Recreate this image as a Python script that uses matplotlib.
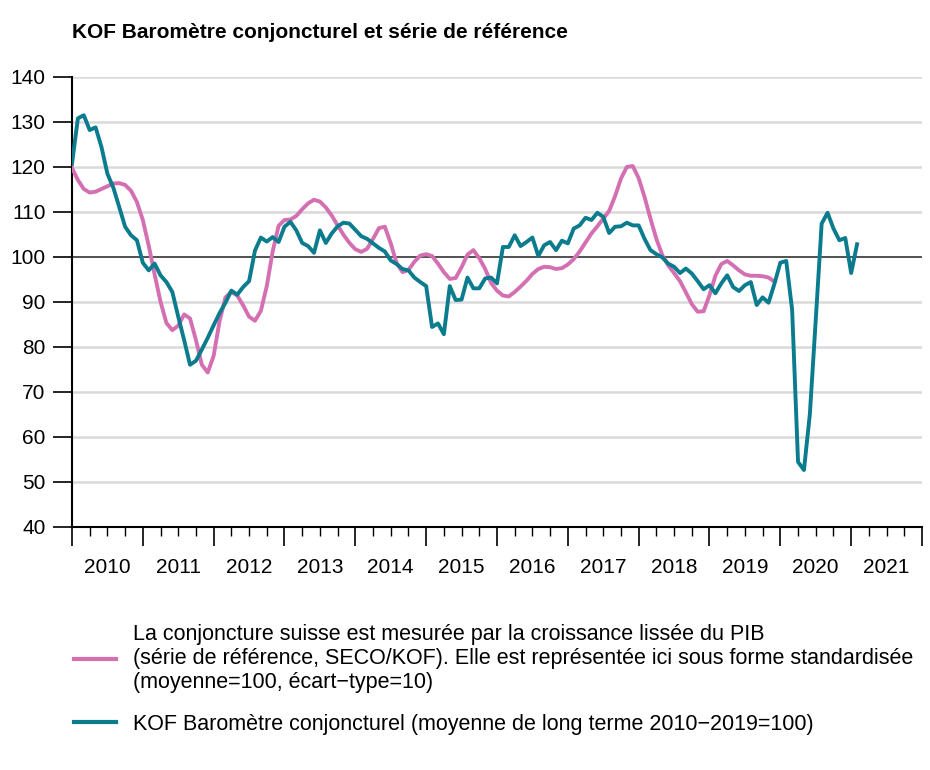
import numpy as np
import matplotlib.pyplot as plt
from matplotlib.lines import Line2D

# monthly data, index 0 = Jan 2010
kof_barometer = [
    120.7, 130.8, 131.5, 128.2, 128.8, 124.4, 118.5, 115.4, 111.1, 106.7, 104.8, 103.7,
    98.7, 97.0, 98.5, 95.9, 94.4, 92.2, 86.7, 81.5, 76.0, 76.9, 79.4, 82.0,
    84.8, 87.5, 89.8, 92.5, 91.6, 93.3, 94.6, 101.4, 104.3, 103.4, 104.4, 103.3,
    106.7, 107.8, 105.9, 103.1, 102.4, 100.9, 105.9, 103.1, 105.2, 106.8, 107.6, 107.4,
    106.0, 104.6, 104.0, 103.0, 102.0, 101.2, 99.2, 98.4, 97.3, 97.0, 95.4, 94.4,
    93.5, 84.4, 85.2, 82.8, 93.5, 90.4, 90.5, 95.4, 93.0, 93.0, 95.2, 95.4,
    94.1, 102.2, 102.2, 104.8, 102.4, 103.3, 104.3, 100.2, 102.6, 103.3, 101.5, 103.6,
    103.0, 106.3, 107.0, 108.7, 108.2, 109.8, 108.9, 105.3, 106.7, 106.8, 107.6, 107.0,
    107.0, 104.0, 101.5, 100.6, 99.9, 98.5, 97.8, 96.4, 97.4, 96.3, 94.6, 92.8,
    93.7, 91.9, 94.1, 95.9, 93.3, 92.4, 93.7, 94.4, 89.3, 91.0, 89.8, 94.0,
    98.7, 99.1, 88.2, 54.4, 52.6, 65.0, 86.0, 107.4, 109.8, 106.3, 103.7, 104.2,
    96.4, 102.8,
]

reference_series = [
    119.8, 117.1, 115.1, 114.3, 114.5, 115.1, 115.7, 116.3, 116.4, 116.0, 114.7, 112.2,
    108.2, 102.5, 96.1, 90.0, 85.3, 83.7, 84.7, 87.2, 86.3, 81.5, 76.0, 74.3,
    78.0, 85.7, 91.0, 92.2, 91.4, 89.2, 86.7, 85.8, 88.0, 93.5, 101.2, 106.9,
    108.2, 108.3, 109.1, 110.6, 111.9, 112.7, 112.3, 111.0, 109.2, 107.0, 104.9, 103.1,
    101.7, 101.1, 101.8, 104.0, 106.4, 106.7, 103.0, 98.6, 96.6, 97.1, 98.9, 100.3,
    100.6, 100.2, 98.5, 96.6, 95.1, 95.3, 97.7, 100.5, 101.5, 99.7, 97.3, 94.2,
    92.5, 91.4, 91.2, 92.2, 93.4, 94.7, 96.2, 97.3, 97.8, 97.7, 97.3, 97.5,
    98.3, 99.5, 101.2, 103.2, 105.2, 106.8, 108.5, 110.2, 113.5, 117.4, 120.0, 120.2,
    117.5, 113.3, 108.5, 104.0, 100.4, 98.1, 96.4, 94.6, 92.1, 89.5, 87.8, 87.9,
    91.5, 95.8, 98.4, 99.1, 98.1, 97.0, 96.1, 95.8, 95.8, 95.7, 95.4, 94.5,
]

years = list(range(2010, 2022))
y_ticks = list(range(40, 141, 10))

label_ref = ("La conjoncture suisse est mesurée par la croissance lissée du PIB\n"
             "(série de référence, SECO/KOF). Elle est représentée ici sous forme standardisée\n"
             "(moyenne=100, écart\u2212type=10)")
label_kof = "KOF Baromètre conjoncturel (moyenne de long terme 2010\u22122019=100)"

pink = '#d470b2'
teal = '#0b7b8e'

plt.rcParams['font.family'] = ['Liberation Sans', 'DejaVu Sans']

fig = plt.figure(figsize=(9.3, 7.7), dpi=100)
ax = fig.add_axes([0.0774, 0.316, 0.914, 0.584])

# grid lines, 100 line darker
for v in y_ticks:
    if v == 100:
        ax.axhline(v, color='#333333', lw=1.2, zorder=2)
    elif v != 40:
        ax.axhline(v, color='#d9d9d9', lw=1.8, zorder=1)

ax.plot(np.arange(len(reference_series)), reference_series, color=pink, lw=2.8, zorder=3)
ax.plot(np.arange(len(kof_barometer)), kof_barometer, color=teal, lw=2.8, zorder=4)

ax.set_xlim(0, 144)
ax.set_ylim(40, 140)

ax.set_yticks(y_ticks)
ax.tick_params(axis='y', length=14, width=1.2, labelsize=15, pad=5)

# year ticks, quarter ticks, labels at mid-year
ax.set_xticks([12 * i for i in range(13)], labels=[''] * 13)
quarters = [q for q in range(0, 144, 3) if q % 12 != 0]
q_labels = [str(years[q // 12]) if q % 12 == 6 else '' for q in quarters]
ax.set_xticks(quarters, labels=q_labels, minor=True)
ax.tick_params(axis='x', which='major', length=13.5, width=1.2)
ax.tick_params(axis='x', which='minor', length=6.5, width=1.0, labelsize=15, pad=16)

for s in ['top', 'right']:
    ax.spines[s].set_visible(False)
ax.spines['left'].set_linewidth(1.5)
ax.spines['bottom'].set_linewidth(1.5)

fig.text(0.0774, 0.958, 'KOF Baromètre conjoncturel et série de référence',
         fontsize=15, fontweight='bold', va='center', ha='left')

handles = [Line2D([], [], color=pink, lw=3), Line2D([], [], color=teal, lw=3)]
fig.legend(handles, [label_ref, label_kof], loc='upper left',
           bbox_to_anchor=(0.0796, 0.19), frameon=False, fontsize=15.5,
           borderpad=0, borderaxespad=0,
           handlelength=1.95, handletextpad=0.8, labelspacing=0.95)

fig.savefig('out.png', dpi=100)
